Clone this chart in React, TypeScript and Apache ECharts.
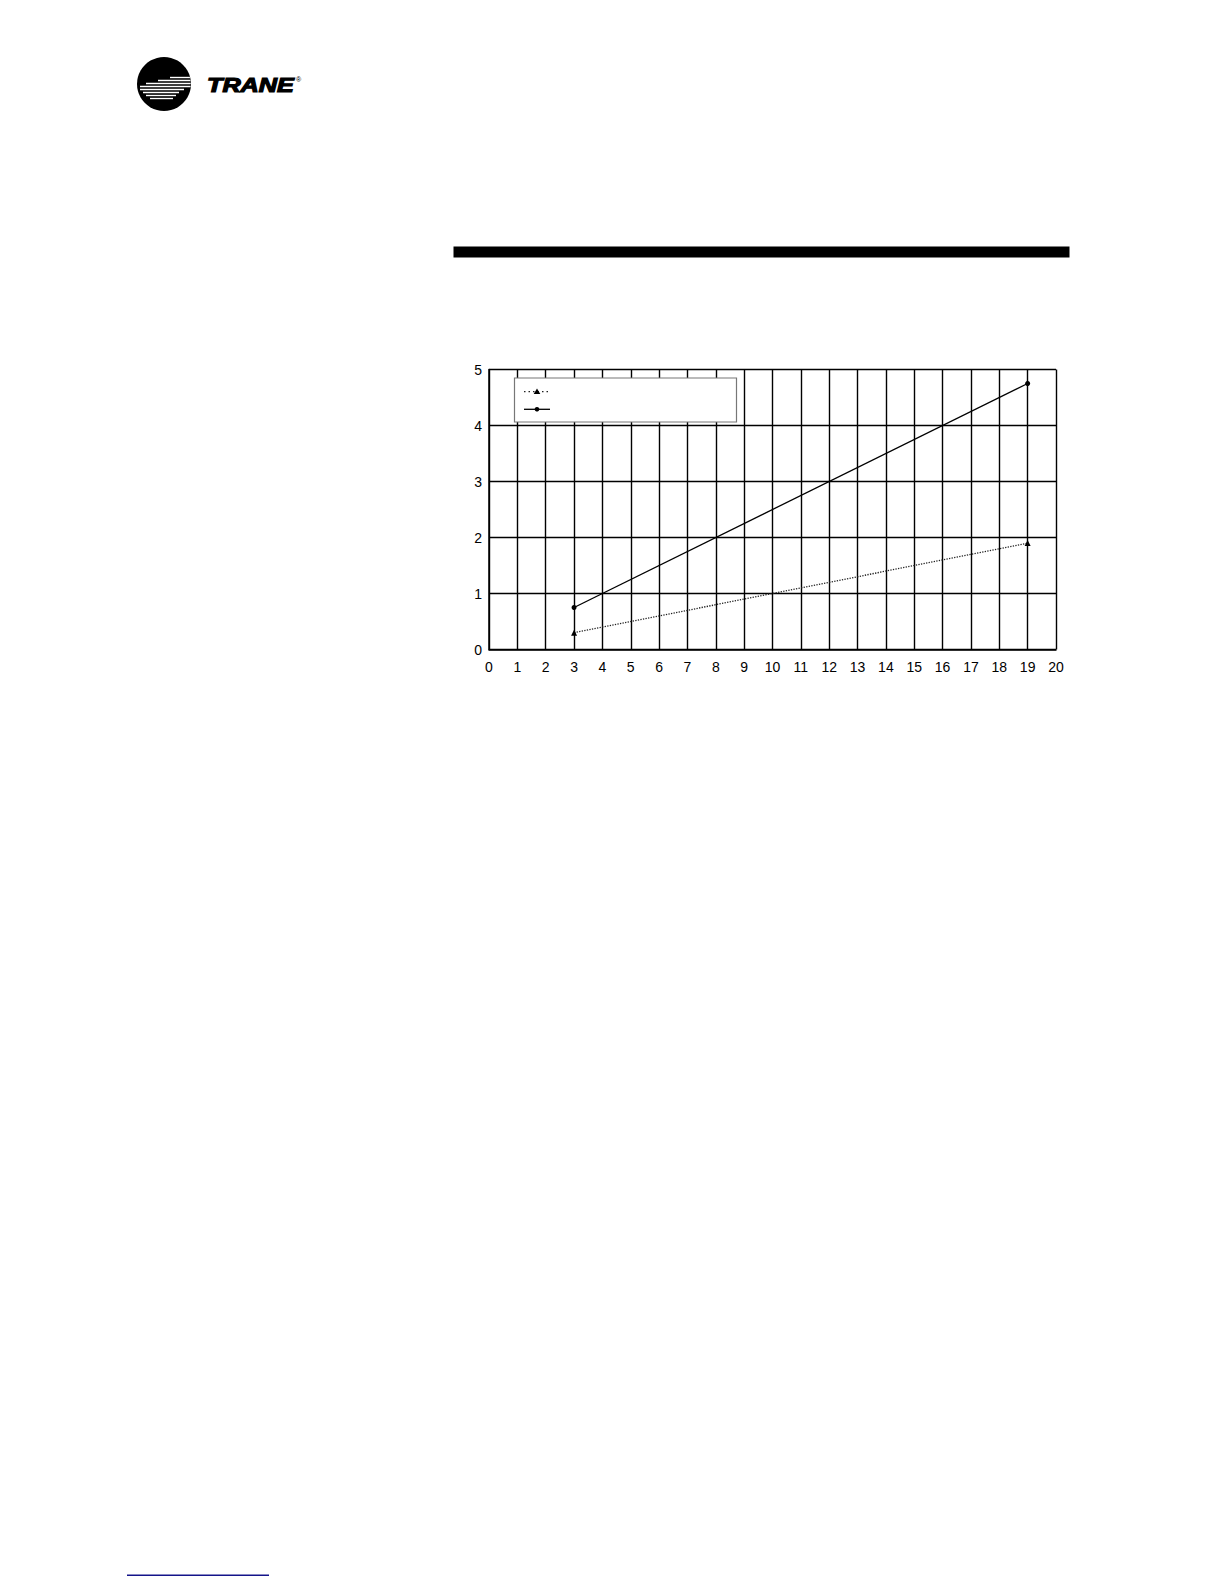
import React, { useEffect, useRef } from "react";
import * as echarts from "echarts";

const xTicks = [0, 20];
const yTicks = [0, 5];
const solidSeries: [number, number][] = [
  [3, 0.75],
  [19, 4.75],
];
const dottedSeries: [number, number][] = [
  [3, 0.3],
  [19, 1.9],
];

const LOGO_CX = 164;
const LOGO_CY = 84;
const LOGO_R = 27;

function logoStripes() {
  const rows: { y: number; x0: number; x1: number | null }[] = [
    { y: 77.5, x0: 170, x1: null },
    { y: 80.5, x0: 158, x1: null },
    { y: 83.5, x0: 146, x1: null },
    { y: 86.5, x0: 140, x1: null },
    { y: 89.5, x0: 140, x1: 184 },
    { y: 92.5, x0: 143, x1: 179 },
    { y: 95.5, x0: 146, x1: 176 },
    { y: 98.5, x0: 150, x1: 173 },
  ];
  return rows.map((row) => {
    const dy = row.y - LOGO_CY;
    const half = Math.sqrt(Math.max(0, LOGO_R * LOGO_R - dy * dy));
    const end = row.x1 == null ? LOGO_CX + half - 0.3 : row.x1;
    return {
      type: "line",
      z: 101,
      shape: { x1: row.x0, y1: row.y, x2: end, y2: row.y },
      style: { stroke: "#fff", lineWidth: 1.4 },
    };
  });
}

export default function App() {
  const ref = useRef<HTMLDivElement>(null);
  useEffect(() => {
    if (!ref.current) return;
    const chart = echarts.init(ref.current, null, { renderer: "svg" });
    const labelFont = { fontFamily: "Liberation Sans, Arial, sans-serif", fontSize: 14, color: "#000" };
    chart.setOption({
      animation: false,
      backgroundColor: "#fff",
      grid: { left: 489, top: 369.5, width: 567, height: 280, containLabel: false },
      xAxis: {
        type: "value",
        min: xTicks[0],
        max: xTicks[1],
        interval: 1,
        axisLine: { show: true, lineStyle: { color: "#000", width: 1.5 } },
        axisTick: { show: false },
        axisLabel: { ...labelFont, margin: 10 },
        splitLine: { show: true, lineStyle: { color: "#000", width: 1.4 } },
      },
      yAxis: {
        type: "value",
        min: yTicks[0],
        max: yTicks[1],
        interval: 1,
        axisLine: { show: true, lineStyle: { color: "#000", width: 1.5 } },
        axisTick: { show: false },
        axisLabel: { ...labelFont, margin: 7 },
        splitLine: { show: true, lineStyle: { color: "#000", width: 1.4 } },
      },
      series: [
        {
          type: "line",
          data: dottedSeries,
          symbol: "triangle",
          symbolSize: 6,
          lineStyle: { type: "dotted", color: "#222", width: 1.3 },
          itemStyle: { color: "#000" },
          z: 5,
        },
        {
          type: "line",
          data: solidSeries,
          symbol: "circle",
          symbolSize: 5,
          lineStyle: { type: "solid", color: "#000", width: 1.3 },
          itemStyle: { color: "#000" },
          z: 5,
        },
      ],
      graphic: [
        // logo
        { type: "circle", z: 100, shape: { cx: LOGO_CX, cy: LOGO_CY, r: LOGO_R }, style: { fill: "#000" } },
        ...logoStripes(),
        {
          type: "text",
          z: 100,
          x: 207,
          y: 85,
          scaleX: 1.26,
          style: {
            x: 0,
            y: 0,
            text: "TRANE",
            fontFamily: "Liberation Sans, Arial, sans-serif",
            fontWeight: 900,
            fontStyle: "italic",
            fontSize: 20,
            fill: "#000",
            stroke: "#000",
            lineWidth: 1.2,
            verticalAlign: "middle",
          },
        },
        {
          type: "text",
          z: 100,
          x: 296,
          y: 79,
          style: { text: "®", fontSize: 7, fill: "#000", fontFamily: "Liberation Sans, Arial, sans-serif", verticalAlign: "middle" },
        },
        // header bar
        { type: "rect", z: 100, shape: { x: 453.5, y: 246.5, width: 616, height: 11 }, style: { fill: "#000" } },
        // legend box
        {
          type: "rect",
          z: 100,
          shape: { x: 514.5, y: 378, width: 222, height: 44 },
          style: { fill: "#fff", stroke: "#777", lineWidth: 1.2 },
        },
        {
          type: "line",
          z: 101,
          shape: { x1: 524, y1: 391.7, x2: 550, y2: 391.7 },
          style: { stroke: "#222", lineWidth: 1.3, lineDash: [1.5, 3] },
        },
        {
          type: "polygon",
          z: 102,
          shape: { points: [[537, 388.5], [540.3, 394], [533.7, 394]] },
          style: { fill: "#000" },
        },
        {
          type: "line",
          z: 101,
          shape: { x1: 524, y1: 409.3, x2: 550, y2: 409.3 },
          style: { stroke: "#000", lineWidth: 1.3 },
        },
        { type: "circle", z: 102, shape: { cx: 537, cy: 409.3, r: 2.3 }, style: { fill: "#000" } },
        // bottom link line
        {
          type: "rect",
          z: 100,
          shape: { x: 127, y: 1574.5, width: 142, height: 1.5 },
          style: { fill: "#14148a" },
        },
      ],
    });
    return () => chart.dispose();
  }, []);
  return (
    <div
      ref={ref}
      style={{ position: "absolute", left: 0, top: 0, width: 1224, height: 1584, background: "#fff" }}
    />
  );
}
